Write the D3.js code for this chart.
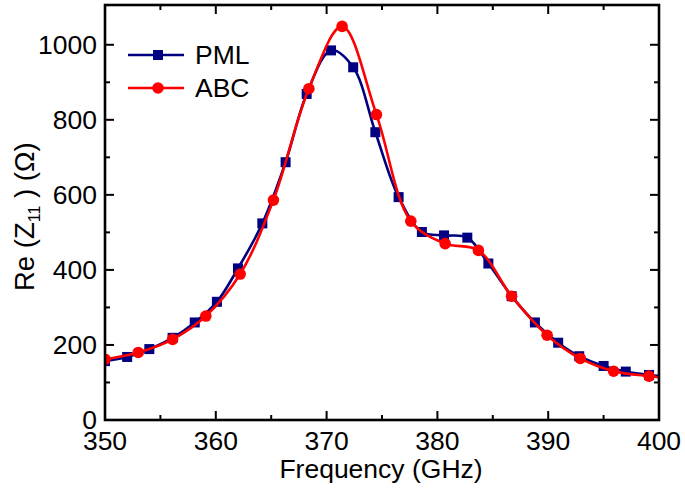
<!DOCTYPE html>
<html>
<head>
<meta charset="utf-8">
<script src="https://cdn.jsdelivr.net/npm/d3@7"></script>
<style>
  html, body { margin: 0; padding: 0; background: #fff; }
  svg text { font-family: "Liberation Sans", Arial, sans-serif; fill: #000; }
</style>
</head>
<body>
<div id="chart"></div>
<script>
// Daten
const pmlFreq = [350, 352.0, 354.0, 356.1, 358.1, 360.1, 362.0, 364.2, 366.3, 368.2, 370.4, 372.4,
                 374.4, 376.5, 378.6, 380.6, 382.7, 384.6, 386.7, 388.8, 390.9, 392.8, 395.0, 397.0, 399.1];
const pmlRe   = [157, 168, 189, 219, 260, 315, 404, 524, 687, 869, 985, 940,
                 767, 594, 501, 492, 486, 417, 330, 260, 206, 170, 144, 129, 120];

const abcFreq = [350, 353.0, 356.1, 359.1, 362.2, 365.2, 368.4, 371.4, 374.5, 377.6, 380.7, 383.7,
                 386.7, 389.9, 392.9, 395.9, 399.1];
const abcRe   = [162, 180, 215, 277, 389, 586, 883, 1049, 814, 530, 470, 452,
                 330, 226, 164, 130, 117];

// Linienende am rechten Rand (ohne Marker)
const tailFreq = 400;
const pmlTail  = 118;
const abcTail  = 114;

const xTicks = [350, 360, 370, 380, 390, 400];
const yTicks = [0, 200, 400, 600, 800, 1000];
const legendNames = ['PML', 'ABC'];

// Layout
const W = 685, H = 497;
const plot = { left: 105, right: 659, top: 5, bottom: 420 };
const FONT = 26.5;
const TITLE = 26.5;

const svg = d3.select('#chart').append('svg')
  .attr('width', W).attr('height', H);

const x = d3.scaleLinear().domain([350, 400]).range([plot.left, plot.right]);
const y = d3.scaleLinear().domain([0, 1106]).range([plot.bottom, plot.top]);

// Ticks (innen) auf allen vier Seiten
const xMinor = d3.range(355, 400, 10);
const yMinor = d3.range(100, 1100, 200);
const MAJ = 9, MIN = 5;

const ticks = svg.append('g').attr('stroke', '#000').attr('stroke-width', 2);
xTicks.forEach(v => {
  ticks.append('line').attr('x1', x(v)).attr('x2', x(v)).attr('y1', plot.bottom).attr('y2', plot.bottom - MAJ);
  ticks.append('line').attr('x1', x(v)).attr('x2', x(v)).attr('y1', plot.top).attr('y2', plot.top + MAJ);
});
xMinor.forEach(v => {
  ticks.append('line').attr('x1', x(v)).attr('x2', x(v)).attr('y1', plot.bottom).attr('y2', plot.bottom - MIN);
  ticks.append('line').attr('x1', x(v)).attr('x2', x(v)).attr('y1', plot.top).attr('y2', plot.top + MIN);
});
yTicks.forEach(v => {
  ticks.append('line').attr('y1', y(v)).attr('y2', y(v)).attr('x1', plot.left).attr('x2', plot.left + MAJ);
  ticks.append('line').attr('y1', y(v)).attr('y2', y(v)).attr('x1', plot.right).attr('x2', plot.right - MAJ);
});
yMinor.forEach(v => {
  ticks.append('line').attr('y1', y(v)).attr('y2', y(v)).attr('x1', plot.left).attr('x2', plot.left + MIN);
  ticks.append('line').attr('y1', y(v)).attr('y2', y(v)).attr('x1', plot.right).attr('x2', plot.right - MIN);
});

// Tick-Beschriftungen
svg.append('g').selectAll('text')
  .data(xTicks).enter().append('text')
    .attr('x', d => x(d)).attr('y', 450)
    .attr('text-anchor', 'middle')
    .attr('font-size', FONT)
    .text(d => d);

svg.append('g').selectAll('text')
  .data(yTicks).enter().append('text')
    .attr('x', plot.left - 8).attr('y', d => y(d))
    .attr('dy', '0.34em')
    .attr('text-anchor', 'end')
    .attr('font-size', FONT)
    .text(d => d);

// Achsentitel
svg.append('text')
  .attr('x', 381).attr('y', 478)
  .attr('text-anchor', 'middle')
  .attr('font-size', TITLE)
  .text('Frequency (GHz)');

const yt = svg.append('text')
  .attr('transform', 'translate(34,291) rotate(-90)')
  .attr('text-anchor', 'start')
  .attr('font-size', 27.5);
yt.append('tspan').text('Re (Z');
yt.append('tspan').attr('font-size', 16).attr('dy', 6).text('11');
yt.append('tspan').attr('dy', -6).text(' ) (Ω)');

// Kurven
const line = d3.line()
  .x(d => x(d[0])).y(d => y(d[1]))
  .curve(d3.curveCatmullRom.alpha(0.5));

const pmlPts = pmlFreq.map((f, i) => [f, pmlRe[i]]);
const abcPts = abcFreq.map((f, i) => [f, abcRe[i]]);

svg.append('clipPath').attr('id', 'clip')
  .append('rect')
    .attr('x', plot.left).attr('y', plot.top)
    .attr('width', plot.right - plot.left).attr('height', plot.bottom - plot.top);

const NAVY = '#000080', RED = '#ff0000';
const SQ = 10, R = 5.8;

const g = svg.append('g').attr('clip-path', 'url(#clip)');

g.append('path')
  .attr('d', line(pmlPts.concat([[tailFreq, pmlTail]])))
  .attr('fill', 'none').attr('stroke', NAVY).attr('stroke-width', 2.6);

g.selectAll('rect.pml')
  .data(pmlPts).enter().append('rect')
    .attr('class', 'pml')
    .attr('x', d => x(d[0]) - SQ / 2).attr('y', d => y(d[1]) - SQ / 2)
    .attr('width', SQ).attr('height', SQ)
    .attr('fill', NAVY);

g.append('path')
  .attr('d', line(abcPts.concat([[tailFreq, abcTail]])))
  .attr('fill', 'none').attr('stroke', RED).attr('stroke-width', 2.6);

g.selectAll('circle.abc')
  .data(abcPts).enter().append('circle')
    .attr('class', 'abc')
    .attr('cx', d => x(d[0])).attr('cy', d => y(d[1]))
    .attr('r', R)
    .attr('fill', RED);

// Rahmen
svg.append('rect')
  .attr('x', plot.left).attr('y', plot.top)
  .attr('width', plot.right - plot.left).attr('height', plot.bottom - plot.top)
  .attr('fill', 'none').attr('stroke', '#000').attr('stroke-width', 2.6);

// Legende
const legend = svg.append('g');
[NAVY, RED].forEach((c, i) => {
  const ly = 55 + i * 33;
  legend.append('line')
    .attr('x1', 128).attr('x2', 184).attr('y1', ly).attr('y2', ly)
    .attr('stroke', c).attr('stroke-width', 2.6);
  if (i === 0) {
    legend.append('rect')
      .attr('x', 158 - SQ / 2).attr('y', ly - SQ / 2)
      .attr('width', SQ).attr('height', SQ).attr('fill', c);
  } else {
    legend.append('circle').attr('cx', 158).attr('cy', ly).attr('r', R).attr('fill', c);
  }
  legend.append('text')
    .attr('x', 195).attr('y', ly).attr('dy', '0.35em')
    .attr('font-size', FONT)
    .text(legendNames[i]);
});
</script>
</body>
</html>
